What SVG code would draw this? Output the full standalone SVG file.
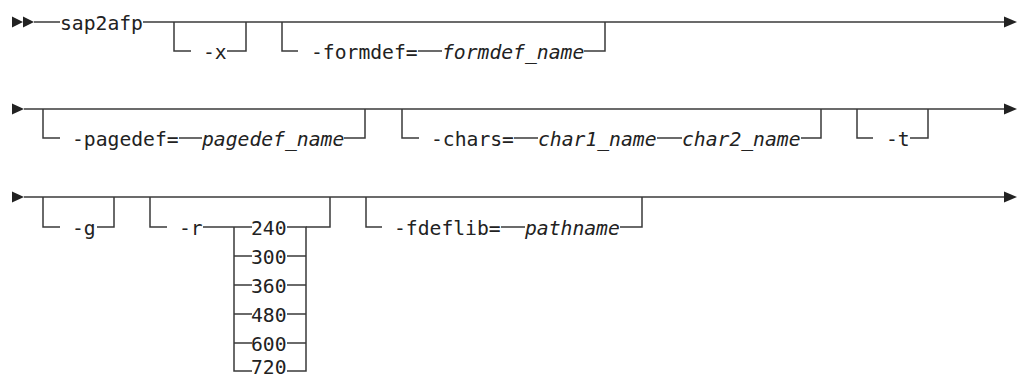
<svg xmlns="http://www.w3.org/2000/svg" width="1018" height="379" viewBox="0 0 1018 379">
<style>
.ln{fill:none;stroke:#3a3a3a;stroke-width:1.5}
.t{font-family:"DejaVu Sans Mono","Liberation Mono",monospace;font-size:19.7px;fill:#222}
.i{font-style:italic}
.ah{fill:#222}
</style>
<rect width="1018" height="379" fill="#fff"/>
<g id="connectors">
  <!-- row 1 -->
  <polygon class="ah" points="12,16.5 23,22 12,27.5"/>
  <polygon class="ah" points="23,16.5 34,22 23,27.5"/>
  <path class="ln" d="M34,22H60"/>
  <path class="ln" d="M143,22H1005"/>
  <polygon class="ah" points="1004,16.5 1017,22 1004,27.5"/>
  <path class="ln" d="M174,22V51H191"/>
  <path class="ln" d="M227,51H246V22"/>
  <path class="ln" d="M282,22V51H298"/>
  <path class="ln" d="M418,51H442"/>
  <path class="ln" d="M584,51H605V22"/>
  <!-- row 2 -->
  <polygon class="ah" points="12,103.5 24,109 12,114.5"/>
  <path class="ln" d="M24,109H1005"/>
  <polygon class="ah" points="1004,103.5 1017,109 1004,114.5"/>
  <path class="ln" d="M43,109V138H60"/>
  <path class="ln" d="M179,138H202"/>
  <path class="ln" d="M344,138H365V109"/>
  <path class="ln" d="M402,109V138H419"/>
  <path class="ln" d="M514,138H538"/>
  <path class="ln" d="M657,138H682"/>
  <path class="ln" d="M801,138H821V109"/>
  <path class="ln" d="M857,109V138H873"/>
  <path class="ln" d="M910,138H928V109"/>
  <!-- row 3 -->
  <polygon class="ah" points="12,191.5 24,197 12,202.5"/>
  <path class="ln" d="M24,197H1005"/>
  <polygon class="ah" points="1004,191.5 1017,197 1004,202.5"/>
  <path class="ln" d="M43,197V227H60"/>
  <path class="ln" d="M97,227H114V197"/>
  <path class="ln" d="M150,197V227H167"/>
  <path class="ln" d="M203,227H252"/>
  <path class="ln" d="M234,227V371H252"/>
  <path class="ln" d="M234,256H252M234,285H252M234,314H252M234,343H252"/>
  <path class="ln" d="M287,227H306V371H287"/>
  <path class="ln" d="M287,256H306M287,285H306M287,314H306M287,343H306"/>
  <path class="ln" d="M306,227H330V197"/>
  <path class="ln" d="M366,197V227H382"/>
  <path class="ln" d="M501,227H525"/>
  <path class="ln" d="M620,227H642V197"/>
</g>
<g id="sap2afp"><text class="t" x="60" y="29.5">sap2afp</text></g>
<g id="opt-x"><text class="t" x="203" y="58.5">-x</text></g>
<g id="opt-formdef"><text class="t" x="311" y="58.5">-formdef=</text><text class="t i" x="442" y="58.5">formdef_name</text></g>
<g id="opt-pagedef"><text class="t" x="72" y="145.5">-pagedef=</text><text class="t i" x="202" y="145.5">pagedef_name</text></g>
<g id="opt-chars"><text class="t" x="431" y="145.5">-chars=</text><text class="t i" x="538" y="145.5">char1_name</text><text class="t i" x="682" y="145.5">char2_name</text></g>
<g id="opt-t"><text class="t" x="886" y="145.5">-t</text></g>
<g id="opt-g"><text class="t" x="72" y="234.5">-g</text></g>
<g id="opt-r"><text class="t" x="179" y="234.5">-r</text>
  <text class="t" x="251" y="234.5">240</text>
  <text class="t" x="251" y="263.5">300</text>
  <text class="t" x="251" y="292.5">360</text>
  <text class="t" x="251" y="321.5">480</text>
  <text class="t" x="251" y="350.5">600</text>
  <text class="t" x="251" y="374.3">720</text>
</g>
<g id="opt-fdeflib"><text class="t" x="394" y="234.5">-fdeflib=</text><text class="t i" x="525" y="234.5">pathname</text></g>
</svg>
